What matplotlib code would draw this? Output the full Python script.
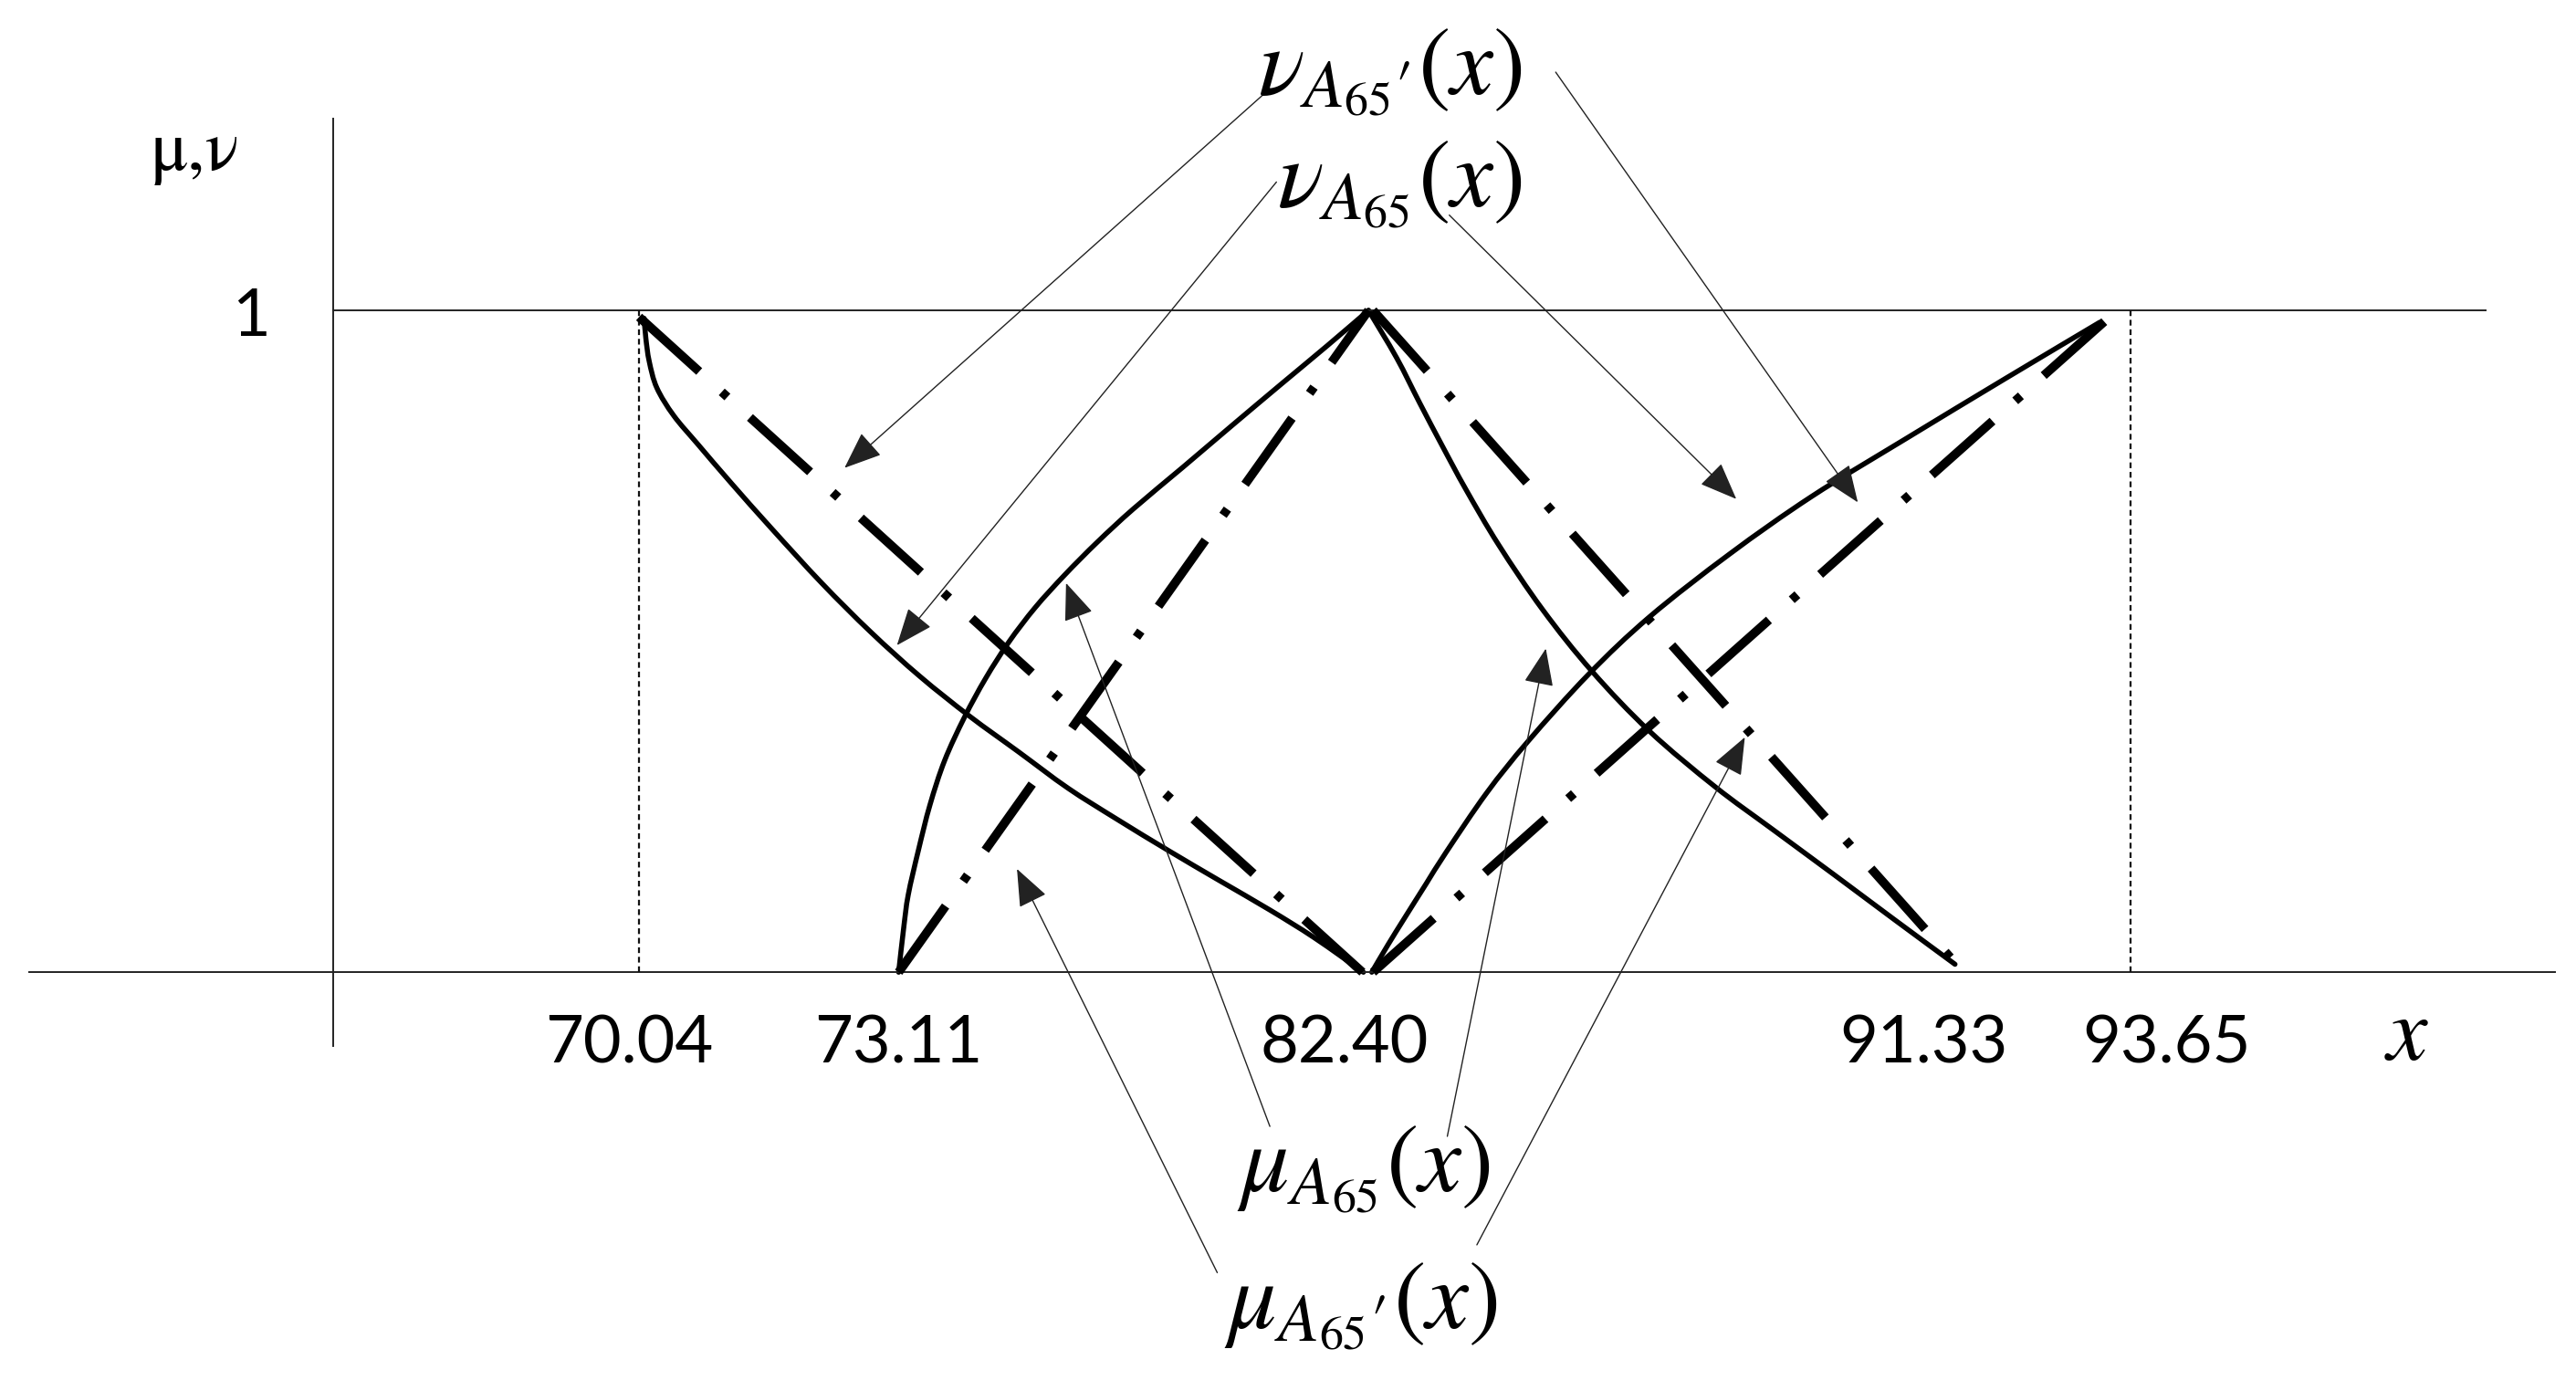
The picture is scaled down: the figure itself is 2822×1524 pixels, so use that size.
import numpy as np
import matplotlib
matplotlib.use("Agg")
import matplotlib.pyplot as plt
from matplotlib.patches import ArrowStyle, PathPatch
from matplotlib.path import Path

plt.rcParams["mathtext.fontset"] = "stix"
plt.rcParams["lines.scale_dashes"] = False

# x values marked on the axis and where they sit on the (schematic, non-uniform) axis
X_TICKS = [70.04, 73.11, 82.40, 91.33, 93.65]
TICK_LABELS = ["70.04", "73.11", "82.40", "91.33", "93.65"]
KNOT_PX = [389, 547, 833, 1190, 1297]  # position in a 1568 px wide frame
FRAME_W = 1568

# solid curves
nu_x = [70.10, 70.12, 70.16, 70.25, 70.45, 70.74, 71.13, 71.61, 72.20, 72.78,
        73.53, 74.51, 75.48, 76.46, 77.43, 78.44, 79.44, 80.45, 81.33, 82.30]
nu_y = [0.988, 0.958, 0.923, 0.883, 0.841, 0.797, 0.739, 0.670, 0.588, 0.514,
        0.447, 0.387, 0.333, 0.278, 0.231, 0.184, 0.139, 0.094, 0.052, 0.0]

mu_x = [73.11, 73.21, 73.30, 73.50, 73.73, 74.02, 74.41, 74.83, 75.29, 75.81,
        76.39, 77.04, 77.75, 78.73, 79.70, 80.68, 81.59, 82.40]
mu_y = [0.0, 0.067, 0.117, 0.184, 0.253, 0.320, 0.385, 0.444, 0.499, 0.551,
        0.600, 0.650, 0.700, 0.763, 0.826, 0.889, 0.947, 1.0]

nu2_x = [82.40, 82.83, 83.18, 83.53, 83.88, 84.38, 85.05, 85.80, 86.68, 87.68,
         88.55, 89.48, 90.40, 91.33]
nu2_y = [1.0, 0.928, 0.860, 0.794, 0.730, 0.646, 0.548, 0.455, 0.364, 0.280,
         0.216, 0.148, 0.080, 0.012]

mu2_x = [82.45, 82.70, 82.95, 83.28, 83.58, 84.20, 84.83, 85.75, 86.68, 87.90,
         89.15, 90.58, 91.98, 93.24]
mu2_y = [0.0, 0.042, 0.082, 0.134, 0.181, 0.271, 0.349, 0.450, 0.537, 0.632,
         0.719, 0.806, 0.896, 0.982]

# dash-dot (linear) functions
nu_lin_x, nu_lin_y = [70.04, 82.28], [0.99, 0.0]
mu_lin_x, mu_lin_y = [73.11, 82.40], [0.0, 1.0]
nu2_lin_x, nu2_lin_y = [82.47, 91.28], [1.0, 0.02]
mu2_lin_x, mu2_lin_y = [82.47, 93.30], [0.0, 0.983]

# labels: (text, position) and their arrows (tail, tip) in data units
LABELS = [
    (r"$\nu_{A_{65}\prime}(x)$", (82.73, 1.360)),
    (r"$\nu_{A_{65}}(x)$", (82.88, 1.191)),
    (r"$\mu_{A_{65}}(x)$", (82.30, -0.298)),
    (r"$\mu_{A_{65}\prime}(x)$", (82.24, -0.504)),
]
ARROWS = [
    ((80.45, 1.335), (72.47, 0.762)),
    ((85.25, 1.360), (89.85, 0.710)),
    ((80.58, 1.194), (73.09, 0.494)),
    ((83.63, 1.144), (88.00, 0.715)),
    ((80.45, -0.233), (76.42, 0.588)),
    ((83.60, -0.248), (85.10, 0.489)),
    ((79.41, -0.454), (75.45, 0.156)),
    ((84.05, -0.412), (88.13, 0.355)),
]
TICK_DX = [-7.8, 0, -19.4, -24.6, 28.5]  # label offsets, points

s_lo = (KNOT_PX[1] - KNOT_PX[0]) / (X_TICKS[1] - X_TICKS[0])
s_hi = (KNOT_PX[-1] - KNOT_PX[-2]) / (X_TICKS[-1] - X_TICKS[-2])


def fwd(v):
    v = np.asarray(v, dtype=float)
    out = np.interp(v, X_TICKS, KNOT_PX)
    out = np.where(v < X_TICKS[0], KNOT_PX[0] + (v - X_TICKS[0]) * s_lo, out)
    out = np.where(v > X_TICKS[-1], KNOT_PX[-1] + (v - X_TICKS[-1]) * s_hi, out)
    return out


def inv(p):
    p = np.asarray(p, dtype=float)
    out = np.interp(p, KNOT_PX, X_TICKS)
    out = np.where(p < KNOT_PX[0], X_TICKS[0] + (p - KNOT_PX[0]) / s_lo, out)
    out = np.where(p > KNOT_PX[-1], X_TICKS[-1] + (p - KNOT_PX[-1]) / s_hi, out)
    return out


def smooth_path(xs, ys):
    """Bezier path through the points (Catmull-Rom handles, built in scale space)."""
    px = fwd(xs)
    py = np.asarray(ys, dtype=float)
    pts = np.column_stack([px, py])
    ext = np.vstack([pts[0], pts, pts[-1]])
    verts = [pts[0]]
    codes = [Path.MOVETO]
    for i in range(len(pts) - 1):
        p0, p1, p2, p3 = ext[i], ext[i + 1], ext[i + 2], ext[i + 3]
        verts += [p1 + (p2 - p0) / 6, p2 - (p3 - p1) / 6, p2]
        codes += [Path.CURVE4] * 3
    verts = np.array(verts)
    verts[:, 0] = inv(verts[:, 0])
    return Path(verts, codes)


fig = plt.figure(figsize=(28.22, 15.24), dpi=100)
ax = fig.add_axes([0, 0, 1, 1])
ax.set_xscale("function", functions=(fwd, inv))
ax.set_xlim(float(inv(0)), float(inv(FRAME_W)))
ax.set_ylim(-0.6328, 1.4690)
ax.set_axis_off()

axis_kw = dict(color="#222222", lw=1.4)
ax.plot([0.1295, 0.1295], [0.248, 0.915], transform=ax.transAxes, **axis_kw)
ax.plot([0.0115, 0.9917], [0, 0], transform=ax.get_yaxis_transform(), **axis_kw)
ax.plot([0.1295, 0.9649], [1, 1], transform=ax.get_yaxis_transform(), **axis_kw)

for xv in (X_TICKS[0], X_TICKS[-1]):
    ax.plot([xv, xv], [0, 1], color="#111111", lw=1.6, linestyle=(0, (4.5, 3)))

dashdot = dict(color="black", lw=7.0, linestyle=(0, (64, 24, 6, 24)))
for xs, ys in [(nu_lin_x, nu_lin_y), (mu_lin_x, mu_lin_y),
               (nu2_lin_x, nu2_lin_y), (mu2_lin_x, mu2_lin_y)]:
    ax.plot(xs, ys, **dashdot)

for xs, ys in [(nu_x, nu_y), (mu_x, mu_y), (nu2_x, nu2_y), (mu2_x, mu2_y)]:
    ax.add_patch(PathPatch(smooth_path(xs, ys), facecolor="none",
                           edgecolor="black", lw=4.0, capstyle="round"))

head = ArrowStyle("-|>", head_length=1.3, head_width=0.52)
for tail, tip in ARROWS:
    ax.annotate("", xy=tip, xytext=tail,
                arrowprops=dict(arrowstyle=head, mutation_scale=20,
                                color="#222222", lw=1.0,
                                shrinkA=0, shrinkB=0))

for text, pos in LABELS:
    ax.text(pos[0], pos[1], text, fontsize=76, ha="center", va="center")

for xv, lab, dx in zip(X_TICKS, TICK_LABELS, TICK_DX):
    ax.annotate(lab, xy=(xv, 0), xytext=(dx, -57), textcoords="offset points",
                ha="center", va="center", fontsize=52, family="Lato")

ax.text(0.0976, 0.772, "1", transform=ax.transAxes, fontsize=52,
        family="Lato", ha="center", va="center")
ax.text(0.0753, 0.890, "μ,ν", transform=ax.transAxes, fontsize=56,
        family=["STIXGeneral", "DejaVu Serif"], ha="center", va="center")
ax.text(0.9343, 0.2562, r"$x$", transform=ax.transAxes, fontsize=72,
        ha="center", va="center")

fig.savefig("out.png", dpi=100, facecolor="white")
